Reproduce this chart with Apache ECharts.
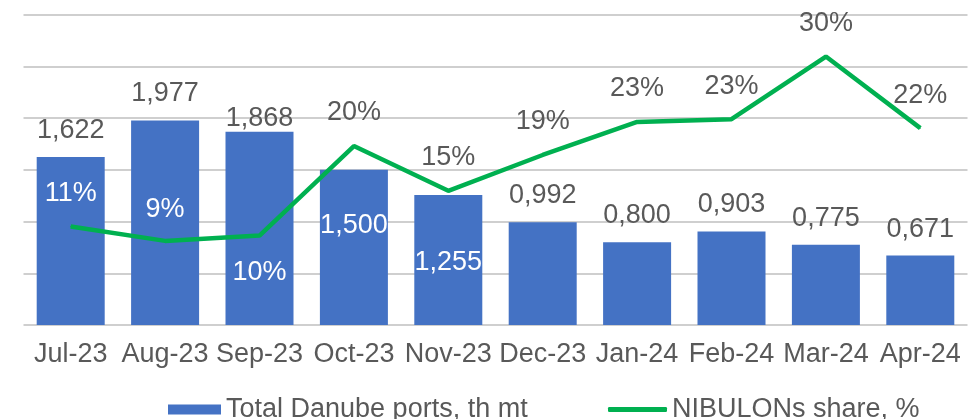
<!DOCTYPE html>
<html>
<head>
<meta charset="utf-8">
<script src="https://cdn.jsdelivr.net/npm/echarts@6/dist/echarts.min.js"></script>
<style>
  html, body { margin: 0; padding: 0; background: #fff; }
  #chart { width: 973px; height: 419px; }
</style>
</head>
<body>
<div id="chart"></div>
<script>
// data
const months = ['Jul-23', 'Aug-23', 'Sep-23', 'Oct-23', 'Nov-23', 'Dec-23', 'Jan-24', 'Feb-24', 'Mar-24', 'Apr-24']
const danubeTotal = [1.622, 1.977, 1.868, 1.5, 1.255, 0.992, 0.8, 0.903, 0.775, 0.671]
const nibulonShare = [11, 9.4, 10, 20, 15, 19, 22.7, 23, 30, 22]

const barName = 'Total Danube ports, th mt'
const lineName = 'NIBULONs share, %'

const blue = '#4472c4'
const green = '#00b050'
const textColor = '#595959'
const font = "'Liberation Sans', Arial, sans-serif"

// a few labels sit off their usual place, as in the original slide
const barLabelTweak = {
  2: { offset: [0, 13] },
  3: { offset: [0, 82], color: '#fff' },
  4: { offset: [0, 94], color: '#fff' },
}
const lineLabelTweak = {
  0: { color: '#fff' },
  1: { color: '#fff', distance: 17 },
  2: { color: '#fff', position: 'bottom', distance: 23 },
}

const chart = echarts.init(document.getElementById('chart'))

chart.setOption({
  animation: false,
  backgroundColor: '#fff',
  textStyle: { fontFamily: font },
  grid: { left: 23.5, right: 5.5, top: 14.5, bottom: 94 },
  legend: [
    {
      data: [barName],
      left: 163,
      top: 391,
      icon: 'rect',
      itemWidth: 53,
      itemHeight: 10,
      textStyle: { color: textColor, fontSize: 27, fontFamily: font },
    },
    {
      data: [lineName],
      left: 603,
      top: 391,
      icon: 'roundRect',
      itemWidth: 59,
      itemHeight: 5,
      textStyle: { color: textColor, fontSize: 27, fontFamily: font },
    },
  ],
  xAxis: {
    type: 'category',
    data: months,
    axisLine: { show: false },
    axisTick: { show: false },
    axisLabel: { interval: 0, margin: 16, color: textColor, fontSize: 27, fontFamily: font },
  },
  yAxis: [
    {
      type: 'value',
      min: 0,
      max: 3,
      interval: 0.5,
      axisLine: { show: false },
      axisTick: { show: false },
      axisLabel: { show: false },
      splitLine: { lineStyle: { color: '#cfcfcf', width: 2 } },
    },
    {
      type: 'value',
      min: 0,
      max: 34.7,
      axisLine: { show: false },
      axisTick: { show: false },
      axisLabel: { show: false },
      splitLine: { show: false },
    },
  ],
  series: [
    {
      name: barName,
      type: 'bar',
      barWidth: 68,
      itemStyle: { color: blue },
      data: danubeTotal.map((v, i) => ({
        value: v,
        label: barLabelTweak[i] || {},
      })),
      label: {
        show: true,
        position: 'top',
        distance: 13,
        color: textColor,
        fontSize: 27,
        fontFamily: font,
        formatter: p => p.value.toFixed(3).replace('.', ','),
      },
    },
    {
      name: lineName,
      type: 'line',
      yAxisIndex: 1,
      symbol: 'circle',
      symbolSize: 1,
      showSymbol: true,
      itemStyle: { color: green },
      lineStyle: { color: green, width: 4.5 },
      z: 3,
      data: nibulonShare.map((v, i) => ({
        value: v,
        label: lineLabelTweak[i] || {},
      })),
      label: {
        show: true,
        position: 'top',
        distance: 19,
        color: textColor,
        fontSize: 27,
        fontFamily: font,
        formatter: p => Math.round(p.value) + '%',
      },
    },
  ],
})
</script>
</body>
</html>
